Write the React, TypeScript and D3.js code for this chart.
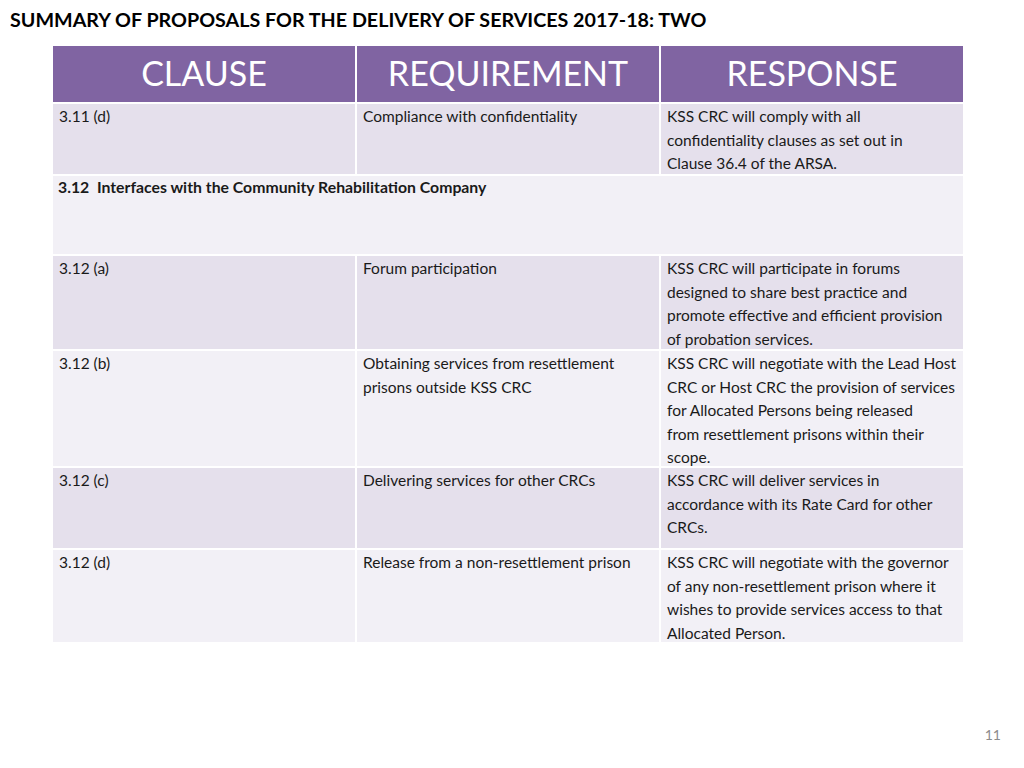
import React from "react";
import * as d3 from "d3";

const title = "SUMMARY OF PROPOSALS FOR THE DELIVERY OF SERVICES 2017-18: TWO";
const headers = ["CLAUSE", "REQUIREMENT", "RESPONSE"];
const clauses = ["3.11 (d)", "3.12  Interfaces with the Community Rehabilitation Company", "3.12 (a)", "3.12 (b)", "3.12 (c)", "3.12 (d)"];
const sectionRow = [false, true, false, false, false, false];
const requirements: string[][] = [
  ["Compliance with confidentiality"],
  [],
  ["Forum participation"],
  ["Obtaining services from resettlement", "prisons outside KSS CRC"],
  ["Delivering services for other CRCs"],
  ["Release from a non-resettlement prison"],
];
const responses: string[][] = [
  ["KSS CRC will comply with all", "confidentiality clauses as set out in", "Clause 36.4 of the ARSA."],
  [],
  ["KSS CRC will participate in forums", "designed to share best practice and", "promote effective and efficient provision", "of probation services."],
  ["KSS CRC will negotiate with the Lead Host", "CRC or Host CRC the provision of services", "for Allocated Persons being released", "from resettlement prisons within their", "scope."],
  ["KSS CRC will deliver services in", "accordance with its Rate Card for other", "CRCs."],
  ["KSS CRC will negotiate with the governor", "of any non-resettlement prison where it", "wishes to provide services access to that", "Allocated Person."],
];
const pageNumber = "11";

// layout
const rowHeights = [70, 78, 93, 115, 80, 92];
const W = 1024, H = 768;
const tableLeft = 53, tableRight = 963;
const headerTop = 46, headerH = 56, gap = 2;
const FONT = "Lato, 'Open Sans', sans-serif";

export default function App() {
  const x = d3.scaleBand<string>().domain(headers).range([tableLeft, tableRight + gap]).paddingInner(0);
  const colW = x.bandwidth() - gap;
  const starts = [0, ...d3.cumsum(rowHeights.map((h) => h + gap))];
  const bodyTop = headerTop + headerH + gap;
  const rowY = (i: number) => bodyTop + starts[i];
  const lineH = 23.6;
  const textStyle = { fontFamily: FONT, fontSize: 15.5, fill: "#1a1a1a", whiteSpace: "pre" } as const;

  return (
    <svg width={W} height={H} style={{ position: "absolute", left: 0, top: 0, background: "#fff" }}>
      <rect width={W} height={H} fill="#fff" />
      <text x={10} y={27} style={{ fontFamily: FONT, fontSize: 19.7, fontWeight: 700, fill: "#000" }}>{title}</text>
      {headers.map((h) => (
        <g key={h}>
          <rect x={x(h)} y={headerTop} width={colW} height={headerH} fill="#8064A2" />
          <text x={(x(h) as number) + colW / 2} y={headerTop + headerH / 2 + 12} textAnchor="middle"
            style={{ fontFamily: FONT, fontSize: 34, fill: "#fff" }}>{h}</text>
        </g>
      ))}
      {clauses.map((c, i) => {
        const y0 = rowY(i);
        const fill = i % 2 === 0 ? "#E5E0EC" : "#F2F0F6";
        if (sectionRow[i]) {
          return (
            <g key={i}>
              <rect x={tableLeft} y={y0} width={tableRight - tableLeft} height={rowHeights[i]} fill={fill} />
              <text x={tableLeft + 5} y={y0 + 17} style={{ ...textStyle, fontSize: 15.8, fontWeight: 700 }}>{c}</text>
            </g>
          );
        }
        const cols = [[c], requirements[i], responses[i]];
        return (
          <g key={i}>
            {headers.map((h, j) => (
              <g key={h}>
                <rect x={x(h)} y={y0} width={colW} height={rowHeights[i]} fill={fill} />
                {cols[j].map((line, k) => (
                  <text key={k} x={(x(h) as number) + 6} y={y0 + 18 + k * lineH} style={textStyle}>{line}</text>
                ))}
              </g>
            ))}
          </g>
        );
      })}
      <text x={1001} y={740} textAnchor="end" style={{ fontFamily: FONT, fontSize: 14, fill: "#8c8c8c" }}>{pageNumber}</text>
    </svg>
  );
}
